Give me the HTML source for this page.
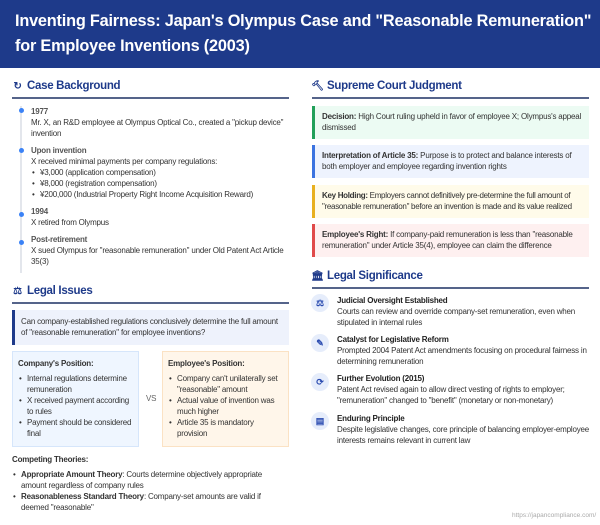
<!DOCTYPE html>
<html><head><meta charset="utf-8"><style>
*{margin:0;padding:0;box-sizing:border-box}
body{width:600px;height:525px;background:#f8f9fb;font-family:"Liberation Sans",sans-serif;color:#333;position:relative;overflow:hidden;font-size:8px;line-height:11px;letter-spacing:-0.2px}
.a{position:absolute}
.hdr{left:0;top:0;width:600px;height:68px;background:#1e3a8a;color:#fff;font-weight:bold;font-size:16.3px;line-height:25px;padding:9px 15px;white-space:nowrap;letter-spacing:-0.2px}
.main{left:0;top:68px;width:600px;height:457px;background:#fff}
.h{font-size:11.5px;font-weight:bold;color:#1e3a8a;line-height:14px;letter-spacing:-0.3px}
.h .ic{display:inline-block;width:13px;margin-right:3px;text-align:center;font-size:10px}
.rule{height:1.5px;background:#55648a}
.t{color:#555;font-weight:bold}
.dot{width:5px;height:5px;border-radius:50%;background:#3b82f6}
ul{list-style:none}
li{position:relative;padding-left:9px}
li:before{content:"•";position:absolute;left:1px}
.box{border-left:3px solid}
.ci{width:18px;height:18px;border-radius:50%;background:#e6edfb;color:#2a4bb0;font-size:9px;text-align:center;line-height:18px;font-weight:bold;letter-spacing:0}
</style></head><body>
<div class="a hdr">Inventing Fairness: Japan's Olympus Case and "Reasonable Remuneration"<br>for Employee Inventions (2003)</div>
<div class="a main"></div>

<!-- LEFT -->
<div class="a h" style="left:11px;top:79px"><span class="ic">↻</span>Case Background</div>
<div class="a rule" style="left:12px;top:97px;width:277px"></div>
<div class="a" style="left:20px;top:106px;width:2px;height:167px;background:#e3e6ec"></div>
<div class="a dot" style="left:19px;top:108px"></div>
<div class="a dot" style="left:19px;top:148px"></div>
<div class="a dot" style="left:19px;top:212px"></div>
<div class="a dot" style="left:19px;top:240px"></div>
<div class="a" style="left:31px;top:106px;width:258px">
<div class="t">1977</div>
<div>Mr. X, an R&amp;D employee at Olympus Optical Co., created a "pickup device" invention</div>
<div class="t" style="margin-top:6px">Upon invention</div>
<div>X received minimal payments per company regulations:</div>
<ul style="padding-left:0"><li>¥3,000 (application compensation)</li><li>¥8,000 (registration compensation)</li><li>¥200,000 (Industrial Property Right Income Acquisition Reward)</li></ul>
<div class="t" style="margin-top:6px">1994</div>
<div>X retired from Olympus</div>
<div class="t" style="margin-top:6px">Post-retirement</div>
<div>X sued Olympus for "reasonable remuneration" under Old Patent Act Article 35(3)</div>
</div>

<div class="a h" style="left:11px;top:284px"><span class="ic">⚖</span>Legal Issues</div>
<div class="a rule" style="left:12px;top:302px;width:277px"></div>
<div class="a box" style="left:12px;top:310px;width:277px;height:35px;background:#eef2fc;border-color:#1e3a8a;padding:6px 6px 0 6px">Can company-established regulations conclusively determine the full amount of "reasonable remuneration" for employee inventions?</div>
<div class="a" style="left:12px;top:351px;width:127px;height:96px;background:#eff6ff;border:1px solid #d6e6fb;padding:6px 5px">
<div style="font-weight:bold;margin-bottom:4px">Company's Position:</div>
<ul><li>Internal regulations determine remuneration</li><li>X received payment according to rules</li><li>Payment should be considered final</li></ul></div>
<div class="a" style="left:146px;top:393px;color:#666">VS</div>
<div class="a" style="left:162px;top:351px;width:127px;height:96px;background:#fff6ea;border:1px solid #fbe2c4;padding:6px 5px">
<div style="font-weight:bold;margin-bottom:4px">Employee's Position:</div>
<ul><li>Company can't unilaterally set "reasonable" amount</li><li>Actual value of invention was much higher</li><li>Article 35 is mandatory provision</li></ul></div>
<div class="a" style="left:12px;top:454px;width:277px">
<div style="font-weight:bold;margin-bottom:4px">Competing Theories:</div>
<ul style="padding-left:0"><li><b>Appropriate Amount Theory</b>: Courts determine objectively appropriate amount regardless of company rules</li><li><b>Reasonableness Standard Theory</b>: Company-set amounts are valid if deemed "reasonable"</li></ul></div>

<!-- RIGHT -->
<div class="a h" style="left:311px;top:79px"><span class="ic">🔨︎</span>Supreme Court Judgment</div>
<div class="a rule" style="left:312px;top:97px;width:277px"></div>
<div class="a box" style="left:312px;top:106px;width:277px;height:33px;background:#ecfbf3;border-color:#22a05a;padding:5px 5px 0 7px"><b>Decision:</b> High Court ruling upheld in favor of employee X; Olympus's appeal dismissed</div>
<div class="a box" style="left:312px;top:145px;width:277px;height:33px;background:#eef3fe;border-color:#3b73e0;padding:5px 5px 0 7px"><b>Interpretation of Article 35:</b> Purpose is to protect and balance interests of both employer and employee regarding invention rights</div>
<div class="a box" style="left:312px;top:185px;width:277px;height:33px;background:#fffbea;border-color:#e8b020;padding:5px 4px 0 7px;letter-spacing:-0.3px"><b>Key Holding:</b> Employers cannot definitively pre-determine the full amount of "reasonable remuneration" before an invention is made and its value realized</div>
<div class="a box" style="left:312px;top:224px;width:277px;height:33px;background:#fef0f0;border-color:#e04a4a;padding:5px 5px 0 7px"><b>Employee's Right:</b> If company-paid remuneration is less than "reasonable remuneration" under Article 35(4), employee can claim the difference</div>

<div class="a h" style="left:311px;top:269px"><span class="ic">🏛︎</span>Legal Significance</div>
<div class="a rule" style="left:312px;top:287px;width:277px"></div>
<div class="a ci" style="left:311px;top:294px">⚖</div>
<div class="a ci" style="left:311px;top:334px">✎</div>
<div class="a ci" style="left:311px;top:373px">⟳</div>
<div class="a ci" style="left:311px;top:412px">▤</div>
<div class="a" style="left:337px;top:295px;width:252px"><b style="color:#222">Judicial Oversight Established</b><br>Courts can review and override company-set remuneration, even when stipulated in internal rules</div>
<div class="a" style="left:337px;top:334px;width:252px"><b style="color:#222">Catalyst for Legislative Reform</b><br>Prompted 2004 Patent Act amendments focusing on procedural fairness in determining remuneration</div>
<div class="a" style="left:337px;top:373px;width:252px"><b style="color:#222">Further Evolution (2015)</b><br>Patent Act revised again to allow direct vesting of rights to employer; "remuneration" changed to "benefit" (monetary or non-monetary)</div>
<div class="a" style="left:337px;top:413px;width:252px"><b style="color:#222">Enduring Principle</b><br>Despite legislative changes, core principle of balancing employer-employee interests remains relevant in current law</div>

<div class="a" style="left:512px;top:510px;font-size:6.5px;color:#aaa;letter-spacing:0">https://japancompliance.com/</div>
</body></html>
